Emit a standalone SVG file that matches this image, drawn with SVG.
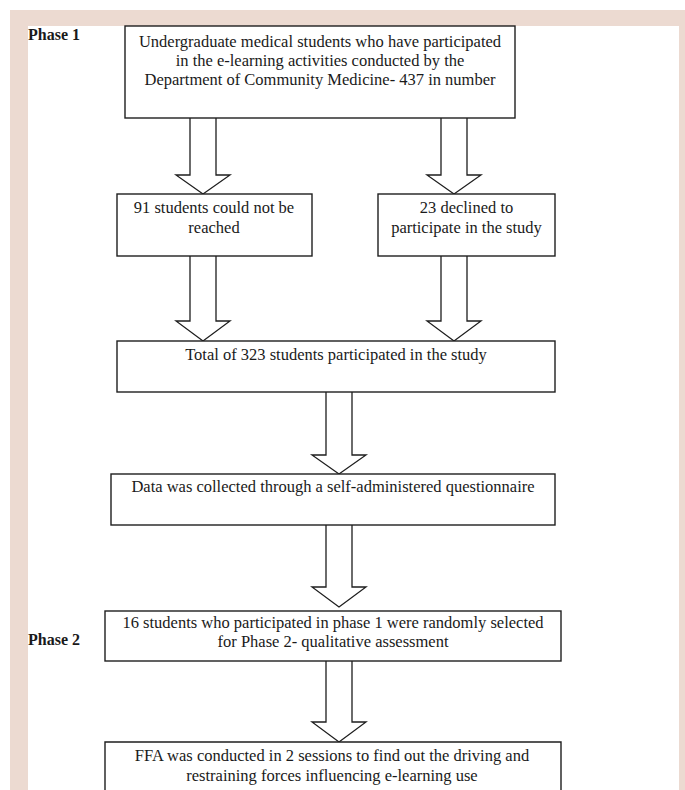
<svg xmlns="http://www.w3.org/2000/svg" width="685" height="790" viewBox="0 0 685 790">
<style>
.box{fill:#ffffff;stroke:#1e1e1e;stroke-width:1.4}
.arr{fill:#ffffff;stroke:#1e1e1e;stroke-width:1.3;stroke-linejoin:miter}
.t{font-family:"Liberation Serif","Times New Roman",serif;font-size:16.5px;fill:#1a1a1a;text-anchor:middle}
.ph{font-family:"Liberation Serif","Times New Roman",serif;font-size:16px;font-weight:bold;fill:#1a1a1a}
</style>
<rect x="0" y="0" width="685" height="790" fill="#ffffff"/>
<rect x="10" y="10" width="675" height="780" fill="#ecdad1"/>
<rect x="28" y="26" width="651" height="764" fill="#ffffff"/>

<g id="labels">
<text class="ph" x="28" y="40">Phase 1</text>
<text class="ph" x="28" y="645">Phase 2</text>
</g>

<g id="connectors">
<polyline class="arr" points="190,118 190,175 176,175 203,194 230,175 216,175 216,118"/>
<polyline class="arr" points="441,118 441,175 427,175 454,194 481,175 467,175 467,118"/>
<polyline class="arr" points="190,256 190,321 176,321 203,341 230,321 216,321 216,256"/>
<polyline class="arr" points="441,256 441,321 427,321 454,341 481,321 467,321 467,256"/>
<polyline class="arr" points="326,392 326,455 312,455 339,474 366,455 352,455 352,392"/>
<polyline class="arr" points="326,525 326,587 312,587 339,607 366,587 352,587 352,525"/>
<polyline class="arr" points="326,661 326,722 312,722 339,742 366,722 352,722 352,661"/>
</g>

<g id="n-start">
<rect class="box" x="125" y="26" width="390" height="92"/>
<text class="t" x="320" y="47">Undergraduate medical students who have participated</text>
<text class="t" x="320" y="66">in the e-learning activities conducted by the</text>
<text class="t" x="320" y="85">Department of Community Medicine- 437 in number</text>
</g>

<g id="n-unreached">
<rect class="box" x="117" y="194" width="195" height="62"/>
<text class="t" x="214" y="213">91 students could not be</text>
<text class="t" x="214" y="233">reached</text>
</g>

<g id="n-declined">
<rect class="box" x="378" y="194" width="177" height="62"/>
<text class="t" x="466.5" y="213">23 declined to</text>
<text class="t" x="466.5" y="233">participate in the study</text>
</g>

<g id="n-total">
<rect class="box" x="117" y="341" width="438" height="51"/>
<text class="t" x="336" y="360">Total of 323 students participated in the study</text>
</g>

<g id="n-data">
<rect class="box" x="111" y="474" width="444" height="51"/>
<text class="t" x="333" y="492">Data was collected through a self-administered questionnaire</text>
</g>

<g id="n-phase2">
<rect class="box" x="105" y="611" width="456" height="50"/>
<text class="t" x="333" y="628">16 students who participated in phase 1 were randomly selected</text>
<text class="t" x="333" y="647">for Phase 2- qualitative assessment</text>
</g>

<g id="n-ffa">
<path class="box" d="M105,790 L105,742 L561,742 L561,790"/>
<text class="t" x="332" y="761">FFA was conducted in 2 sessions to find out the driving and</text>
<text class="t" x="332" y="781">restraining forces influencing e-learning use</text>
</g>
</svg>
